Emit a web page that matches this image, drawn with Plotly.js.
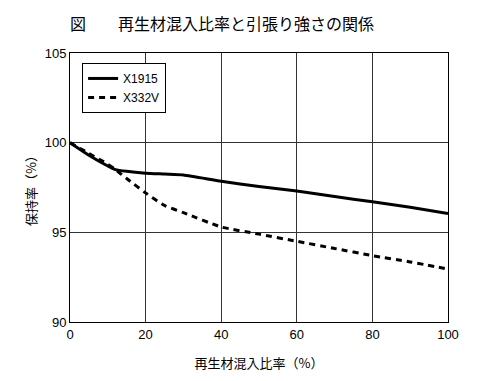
<!DOCTYPE html>
<html>
<head>
<meta charset="utf-8">
<script src="https://cdn.plot.ly/plotly-3.0.1.min.js"></script>
<style>html,body{margin:0;padding:0;background:#fff;}#chart{width:500px;height:381px;}</style>
</head>
<body>
<div id="chart"></div>
<script>
const ratio = [0, 5, 10, 12, 15, 20, 25, 30, 40, 50, 60, 70, 80, 90, 100];
const x1915 = [100, 99.3, 98.7, 98.5, 98.4, 98.3, 98.25, 98.2, 97.85, 97.55, 97.3, 97.0, 96.7, 96.4, 96.05];
const x332v = [100, 99.4, 98.8, 98.5, 98.0, 97.2, 96.5, 96.1, 95.3, 94.9, 94.5, 94.1, 93.7, 93.35, 92.95];
const seriesNames = ['X1915', 'X332V'];
const yTicks = [90, 95, 100, 105];
const xTicks = [0, 20, 40, 60, 80, 100];

const font = 'Liberation Sans, Arial, sans-serif';
const cjk = 'Noto Sans CJK JP, sans-serif';

const traces = [
  {x: ratio, y: x1915, name: seriesNames[0], type: 'scatter', mode: 'lines',
   line: {color: '#000', width: 3, shape: 'spline', smoothing: 0.6}},
  {x: ratio, y: x332v, name: seriesNames[1], type: 'scatter', mode: 'lines',
   line: {color: '#000', width: 3, dash: '6px,5px', shape: 'spline', smoothing: 0.6}}
];

const layout = {
  width: 500, height: 381,
  margin: {l: 70, r: 52, t: 53, b: 59},
  paper_bgcolor: '#fff', plot_bgcolor: '#fff',
  title: {text: '図　　再生材混入比率と引張り強さの関係', x: 0, xanchor: 'left', xref: 'paper',
          y: 0.937, yanchor: 'middle', yref: 'container',
          font: {family: cjk, size: 16, color: '#000'}},
  xaxis: {range: [0, 100], tickvals: xTicks, ticks: '', showgrid: true, gridcolor: '#333', gridwidth: 1,
          showline: true, linecolor: '#000', linewidth: 1, mirror: true, zeroline: false,
          tickfont: {family: font, size: 13, color: '#000'},
          title: {text: '再生材混入比率（%）', font: {family: cjk, size: 13, color: '#000'}, standoff: 18}},
  yaxis: {range: [90, 105], tickvals: yTicks, ticks: '', showgrid: true, gridcolor: '#333', gridwidth: 1,
          showline: true, linecolor: '#000', linewidth: 1, mirror: true, zeroline: false,
          tickfont: {family: font, size: 13, color: '#000'},
          title: {text: '保持率（%）', font: {family: cjk, size: 13, color: '#000'}, standoff: 5}},
  showlegend: true,
  legend: {x: 0.032, y: 0.963, xanchor: 'left', yanchor: 'top', bgcolor: '#fff',
           bordercolor: '#000', borderwidth: 1, font: {family: font, size: 12, color: '#000'},
           tracegroupgap: 0, itemwidth: 30}
};

Plotly.newPlot('chart', traces, layout, {displayModeBar: false, staticPlot: true});
</script>
</body>
</html>
